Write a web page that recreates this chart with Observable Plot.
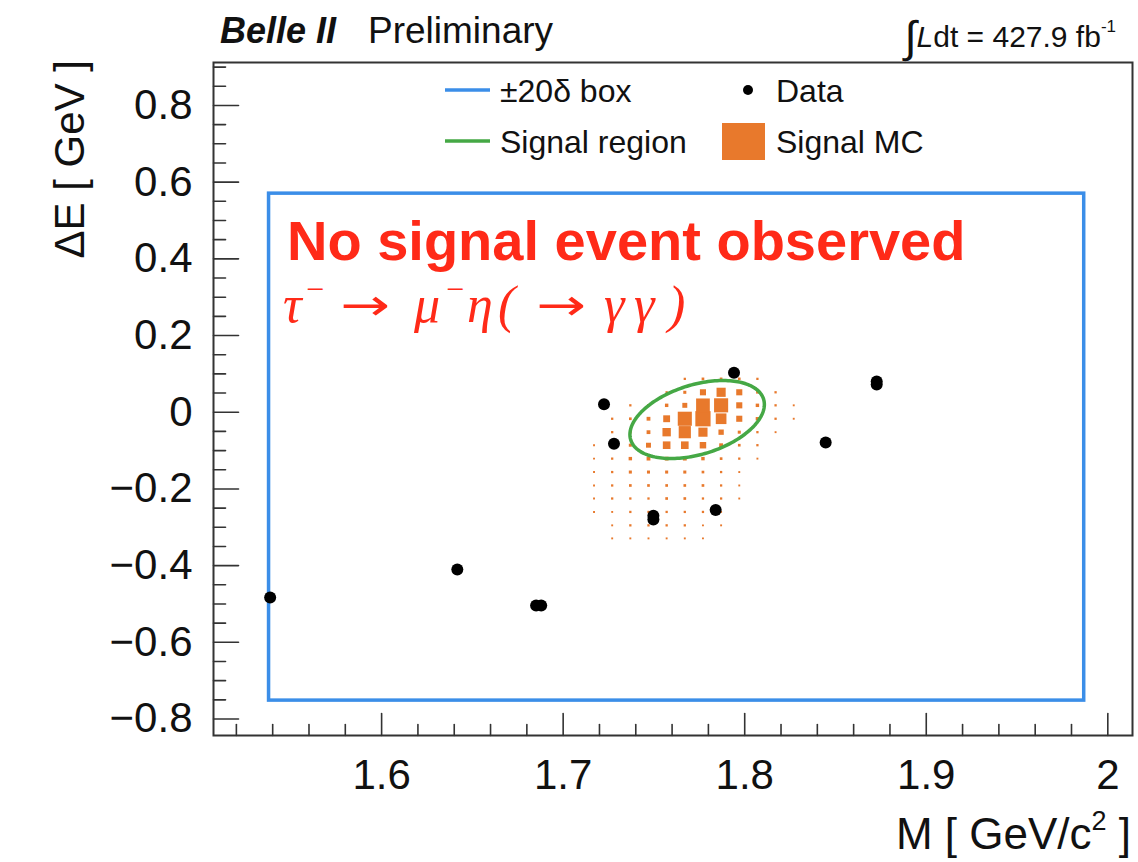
<!DOCTYPE html>
<html>
<head>
<meta charset="utf-8">
<script src="https://cdn.jsdelivr.net/npm/d3@7"></script>
<script src="https://cdn.jsdelivr.net/npm/@observablehq/plot@0.6"></script>
<style>
  html, body { margin: 0; padding: 0; background: #fff; }
  #chart svg { display: block; }
</style>
</head>
<body>
<div id="chart"></div>
<script>
// Candidate events surviving the selection, in the (M, ΔE) plane
const dataMass   = [1.5386, 1.6417, 1.6851, 1.6879, 1.7225, 1.7280, 1.7497, 1.7497, 1.7840, 1.7941, 1.8446, 1.8727, 1.8727];
const dataDeltaE = [-0.483, -0.410, -0.504, -0.504, 0.021, -0.0825, -0.270, -0.280, -0.2547, 0.1028, -0.079, 0.072, 0.080];

// Signal MC histogram: bin centres (GeV/c², GeV) and box sizes per bin
const mcMassBins   = [1.717, 1.727, 1.737, 1.747, 1.757, 1.767, 1.777, 1.787, 1.797, 1.807, 1.817, 1.827];
const mcDeltaEBins = [0.087, 0.052, 0.018, -0.017, -0.052, -0.086, -0.121, -0.156, -0.191, -0.225, -0.260, -0.295, -0.329];
const mcContents = [
  [0, 0, 0, 0, 0, 6, 7, 7, 7, 6, 0, 0],
  [0, 0, 0, 0, 6, 8, 16, 24, 16, 7, 6, 0],
  [0, 0, 6, 7, 9, 13, 36, 37, 16, 9, 6, 5],
  [0, 6, 7, 10, 18, 37, 40, 28, 16, 9, 6, 5],
  [0, 6, 7, 10, 22, 32, 24, 14, 8, 6, 5, 0],
  [5, 6, 8, 13, 20, 20, 17, 10, 7, 6, 0, 0],
  [5, 6, 9, 10, 10, 10, 9, 7, 6, 5, 0, 0],
  [5, 6, 8, 8, 8, 8, 7, 6, 5, 0, 0, 0],
  [5, 6, 7, 7, 7, 7, 7, 6, 5, 0, 0, 0],
  [5, 6, 6, 6, 7, 7, 6, 6, 5, 0, 0, 0],
  [5, 5, 6, 6, 6, 6, 6, 5, 0, 0, 0, 0],
  [0, 5, 6, 6, 6, 6, 5, 5, 0, 0, 0, 0],
  [0, 5, 5, 5, 5, 5, 5, 0, 0, 0, 0, 0]
];

// ±20δ box edges
const boxMass   = [1.538, 1.987];
const boxDeltaE = [-0.752, 0.570];

// Signal-region ellipse: centre and its two semi-axis vectors (M, ΔE)
const ellipseCenter = [1.7738, -0.019];
const ellipseMajor  = [0.0366, 0.0530];
const ellipseMinor  = [0.0056, -0.0868];

// Axis ticks
const xMajorTicks = [1.6, 1.7, 1.8, 1.9, 2.0];
const xTickLabels = ["1.6", "1.7", "1.8", "1.9", "2"];
const yMajorTicks = [-0.8, -0.6, -0.4, -0.2, 0, 0.2, 0.4, 0.6, 0.8];
const yTickLabels = ["\u22120.8", "\u22120.6", "\u22120.4", "\u22120.2", "0", "0.2", "0.4", "0.6", "0.8"];

const xDomain = [1.5074, 2.0136];
const yDomain = [-0.843, 0.912];

const isMajor = (ticks, v) => ticks.some(t => Math.abs(t - v) < 1e-9);
const xMinorTicks = d3.range(76, 101).map(k => k / 50).filter(v => !isMajor(xMajorTicks, v));
const yMinorTicks = d3.range(-16, 19).map(k => k / 20).filter(v => !isMajor(yMajorTicks, v));

const events = dataMass.map((m, i) => ({m, e: dataDeltaE[i]}));
const mcBins = mcContents.flatMap((row, j) =>
  row.map((w, i) => ({m: mcMassBins[i], e: mcDeltaEBins[j], w}))
).filter(d => d.w > 0);
const box = [{m1: boxMass[0], m2: boxMass[1], e1: boxDeltaE[0], e2: boxDeltaE[1]}];
const ellipse = d3.range(0, 360, 2).map(deg => {
  const t = deg * Math.PI / 180;
  return {
    m: ellipseCenter[0] + Math.cos(t) * ellipseMajor[0] + Math.sin(t) * ellipseMinor[0],
    e: ellipseCenter[1] + Math.cos(t) * ellipseMajor[1] + Math.sin(t) * ellipseMinor[1]
  };
});

const BLUE = "#3b8ee8";
const GREEN = "#45a845";
const ORANGE = "#e8792c";
const RED = "#ff2a18";
const AXIS = "#333";
const FONT = "'Liberation Sans', Arial, Helvetica, sans-serif";
const SERIF = "'Liberation Serif', 'Times New Roman', serif";

// inward tick shapes, drawn from the frame edge
const tickUp = {draw(ctx, l) { ctx.moveTo(0, 0); ctx.lineTo(0, -l); }};
const tickRight = {draw(ctx, l) { ctx.moveTo(0, 0); ctx.lineTo(l, 0); }};

const svg = Plot.plot({
  width: 1138,
  height: 862,
  marginLeft: 213,
  marginRight: 6,
  marginTop: 62,
  marginBottom: 127,
  style: {fontFamily: FONT, background: "#fff", color: "#111"},
  x: {domain: xDomain},
  y: {domain: yDomain},
  r: {type: "linear", domain: [0, 40], range: [0, 8.6]},
  marks: [
    Plot.rect(box, {x1: "m1", x2: "m2", y1: "e1", y2: "e2", fill: "none", stroke: BLUE, strokeWidth: 3.5}),
    Plot.dot(mcBins, {x: "m", y: "e", r: "w", symbol: "square", fill: ORANGE, stroke: "none"}),
    Plot.line(ellipse, {x: "m", y: "e", curve: "linear-closed", stroke: GREEN, strokeWidth: 3.5}),
    Plot.dot(events, {x: "m", y: "e", r: 6, fill: "#000", stroke: "none"}),
    Plot.vector(xMajorTicks, {x: d => d, frameAnchor: "bottom", length: 22, shape: tickUp, anchor: "start", stroke: AXIS, strokeWidth: 1.6}),
    Plot.vector(xMinorTicks, {x: d => d, frameAnchor: "bottom", length: 11, shape: tickUp, anchor: "start", stroke: AXIS, strokeWidth: 1.6}),
    Plot.vector(yMajorTicks, {y: d => d, frameAnchor: "left", length: 25, shape: tickRight, anchor: "start", stroke: AXIS, strokeWidth: 1.6}),
    Plot.vector(yMinorTicks, {y: d => d, frameAnchor: "left", length: 12, shape: tickRight, anchor: "start", stroke: AXIS, strokeWidth: 1.6}),
    Plot.axisX({ticks: xMajorTicks, tickSize: 0, tickPadding: 24, fontSize: 42, label: null,
      tickFormat: d => xTickLabels[xMajorTicks.indexOf(d)], fill: "#111"}),
    Plot.axisY({ticks: yMajorTicks, tickSize: 0, tickPadding: 21, fontSize: 42, label: null,
      tickFormat: d => yTickLabels[yMajorTicks.indexOf(d)], fill: "#111"}),
    Plot.frame({stroke: AXIS, strokeWidth: 2})
  ]
});

const root = d3.select(svg);
const g = root.append("g").attr("font-family", FONT).attr("fill", "#111").attr("text-anchor", "start");

// Header
g.append("text").attr("x", 220).attr("y", 43).attr("font-size", 36)
  .attr("font-weight", "bold").attr("font-style", "italic").text("Belle II");
g.append("text").attr("x", 368).attr("y", 43).attr("font-size", 37).text("Preliminary");
const lumi = g.append("text").attr("x", 1116).attr("y", 47).attr("font-size", 30).attr("text-anchor", "end");
lumi.append("tspan").attr("font-size", 44).attr("dy", 5).text("\u222B");
lumi.append("tspan").attr("dy", -5).attr("font-style", "italic").text("L");
lumi.append("tspan").text("dt = 427.9 fb");
lumi.append("tspan").attr("font-size", 17).attr("dy", -15).text("-1");

// Axis titles
g.append("text").attr("transform", "translate(84,60) rotate(-90)").attr("text-anchor", "end")
  .attr("font-size", 42).text("\u0394E [ GeV ]");
const xt = g.append("text").attr("x", 1131).attr("y", 849).attr("text-anchor", "end").attr("font-size", 44);
xt.append("tspan").text("M [ GeV/c");
xt.append("tspan").attr("font-size", 27).attr("dy", -19).text("2");
xt.append("tspan").attr("dy", 19).text(" ]");

// Legend
const legendEntries = [
  {label: "\u00B120\u03B4 box", kind: "line", color: BLUE, x: 445, y: 90},
  {label: "Data", kind: "dot", color: "#000", x: 722, y: 90},
  {label: "Signal region", kind: "line", color: GREEN, x: 445, y: 141},
  {label: "Signal MC", kind: "box", color: ORANGE, x: 722, y: 141}
];
for (const d of legendEntries) {
  if (d.kind === "line") {
    g.append("line").attr("x1", d.x).attr("x2", d.x + 45).attr("y1", d.y).attr("y2", d.y)
      .attr("stroke", d.color).attr("stroke-width", 3.5);
  } else if (d.kind === "dot") {
    g.append("circle").attr("cx", d.x + 26).attr("cy", d.y).attr("r", 5).attr("fill", d.color);
  } else {
    g.append("rect").attr("x", d.x).attr("y", d.y - 18).attr("width", 43).attr("height", 37).attr("fill", d.color);
  }
  g.append("text").attr("x", d.kind === "line" ? d.x + 55 : d.x + 54).attr("y", d.y + 12)
    .attr("font-size", 32).text(d.label);
}

// Result annotation
g.append("text").attr("x", 287).attr("y", 260).attr("font-size", 56).attr("font-weight", "bold")
  .attr("fill", RED).text("No signal event observed");

// Decay channel, laid out piece by piece like a TLatex formula
const decayBaseline = 322;
const decayPieces = [
  {t: "\u03C4", x: 283, kind: "greek", raise: 0},
  {t: "\u2212", x: 306, kind: "sup", raise: 22},
  {t: "\u2192", x: 340, kind: "arrow", raise: 0},
  {t: "\u03BC", x: 414, kind: "greek", raise: 0},
  {t: "\u2212", x: 446, kind: "sup", raise: 22},
  {t: "\u03B7", x: 467, kind: "greek", raise: 0},
  {t: "(", x: 498, kind: "greek", raise: 0},
  {t: "\u2192", x: 536, kind: "arrow", raise: 0},
  {t: "\u03B3", x: 604, kind: "greek", raise: 0},
  {t: "\u03B3", x: 634, kind: "greek", raise: 0},
  {t: ")", x: 668, kind: "greek", raise: 0}
];
const decay = g.append("g").attr("fill", RED);
for (const p of decayPieces) {
  if (p.kind === "arrow") {
    decay.append("text")
      .attr("transform", `translate(${p.x},${decayBaseline - 2}) scale(1.35,1)`)
      .attr("font-family", "'DejaVu Sans', sans-serif").attr("font-size", 44).text(p.t);
  } else {
    decay.append("text").attr("x", p.x).attr("y", decayBaseline - p.raise)
      .attr("font-family", SERIF)
      .attr("font-size", p.kind === "sup" ? 32 : 52)
      .attr("font-style", p.kind === "sup" ? "normal" : "italic").text(p.t);
  }
}

document.getElementById("chart").appendChild(svg);
</script>
</body>
</html>
